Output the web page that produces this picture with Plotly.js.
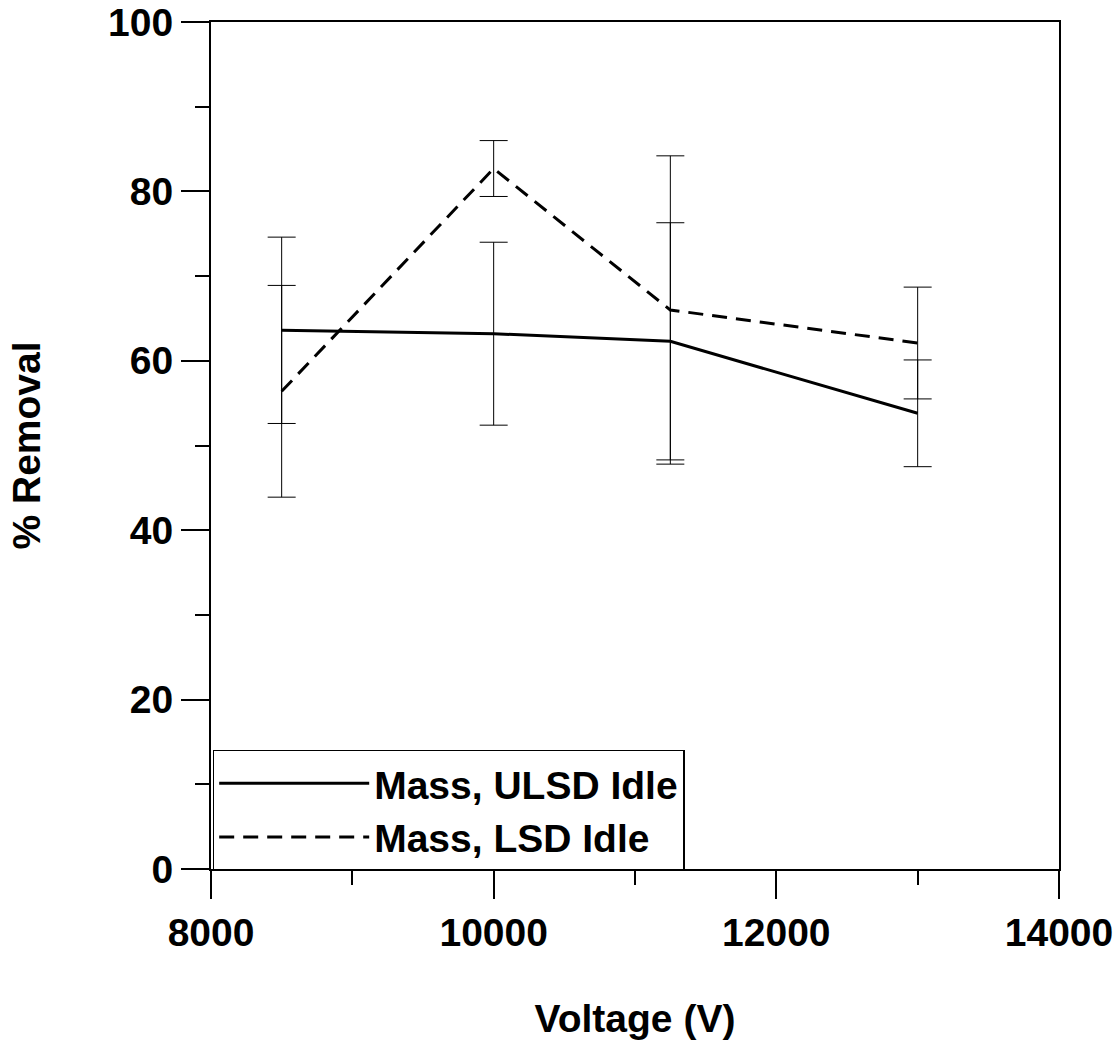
<!DOCTYPE html>
<html>
<head>
<meta charset="utf-8">
<script src="https://cdn.plot.ly/plotly-3.0.1.min.js"></script>
<style>html,body{margin:0;padding:0;background:#fff;}#chart{width:1118px;height:1042px;}</style>
</head>
<body>
<div id="chart"></div>
<script>
const voltage = [8500, 10000, 11250, 13000];
const ulsdRemoval = [63.6, 63.2, 62.3, 53.8];
const ulsdError = [11.0, 10.8, 14.0, 6.3];
const lsdRemoval = [56.4, 82.7, 66.0, 62.1];
const lsdError = [12.5, 3.3, 18.2, 6.6];
const seriesNames = ['Mass, ULSD Idle', 'Mass, LSD Idle'];

const FONT = 'Liberation Sans, Arial, Helvetica, sans-serif';

const traces = [
  {
    x: voltage, y: ulsdRemoval, name: seriesNames[0], type: 'scatter', mode: 'lines',
    line: {color: '#000', width: 3, dash: 'solid'},
    error_y: {type: 'data', array: ulsdError, visible: true, color: '#000', thickness: 1, width: 14}
  },
  {
    x: voltage, y: lsdRemoval, name: seriesNames[1], type: 'scatter', mode: 'lines',
    line: {color: '#000', width: 3, dash: '15px,9px'},
    error_y: {type: 'data', array: lsdError, visible: true, color: '#000', thickness: 1, width: 14}
  }
];

const layout = {
  width: 1118, height: 1042,
  margin: {l: 211, r: 59, t: 22, b: 173, pad: 0},
  paper_bgcolor: '#fff', plot_bgcolor: '#fff',
  font: {family: FONT, size: 39, color: '#000', weight: 'bold'},
  showlegend: true,
  legend: {
    x: 0.002, y: 0.1405, xanchor: 'left', yanchor: 'top',
    bgcolor: '#fff', bordercolor: '#000', borderwidth: 1.5,
    font: {family: FONT, size: 39, color: '#000', weight: 'bold'},
    itemwidth: 150, tracegroupgap: 0,
    entrywidth: 470, entrywidthmode: 'pixels'
  },
  xaxis: {
    range: [8000, 14000], tickmode: 'linear', tick0: 8000, dtick: 2000, tickformat: 'd',
    ticks: 'outside', ticklen: 28, tickwidth: 2, tickcolor: '#000',
    minor: {dtick: 1000, ticks: 'outside', ticklen: 14, tickwidth: 2, tickcolor: '#000', showgrid: false},
    showline: true, linewidth: 2, linecolor: '#000', mirror: true,
    showgrid: false, zeroline: false,
    tickfont: {family: FONT, size: 39, color: '#000', weight: 'bold'},
    title: {text: 'Voltage (V)', font: {family: FONT, size: 39, color: '#000', weight: 'bold'}, standoff: 52},
    automargin: false
  },
  yaxis: {
    range: [0, 100], tickmode: 'linear', tick0: 0, dtick: 20,
    ticks: 'outside', ticklen: 28, tickwidth: 2, tickcolor: '#000',
    minor: {dtick: 10, ticks: 'outside', ticklen: 14, tickwidth: 2, tickcolor: '#000', showgrid: false},
    showline: true, linewidth: 2, linecolor: '#000', mirror: true,
    showgrid: false, zeroline: false,
    tickfont: {family: FONT, size: 39, color: '#000', weight: 'bold'},
    ticklabelstandoff: 0,
    title: {text: '% Removal', font: {family: FONT, size: 39, color: '#000', weight: 'bold'}, standoff: 55},
    automargin: false
  }
};

Plotly.newPlot('chart', traces, layout, {displayModeBar: false, staticPlot: true});
</script>
</body>
</html>
